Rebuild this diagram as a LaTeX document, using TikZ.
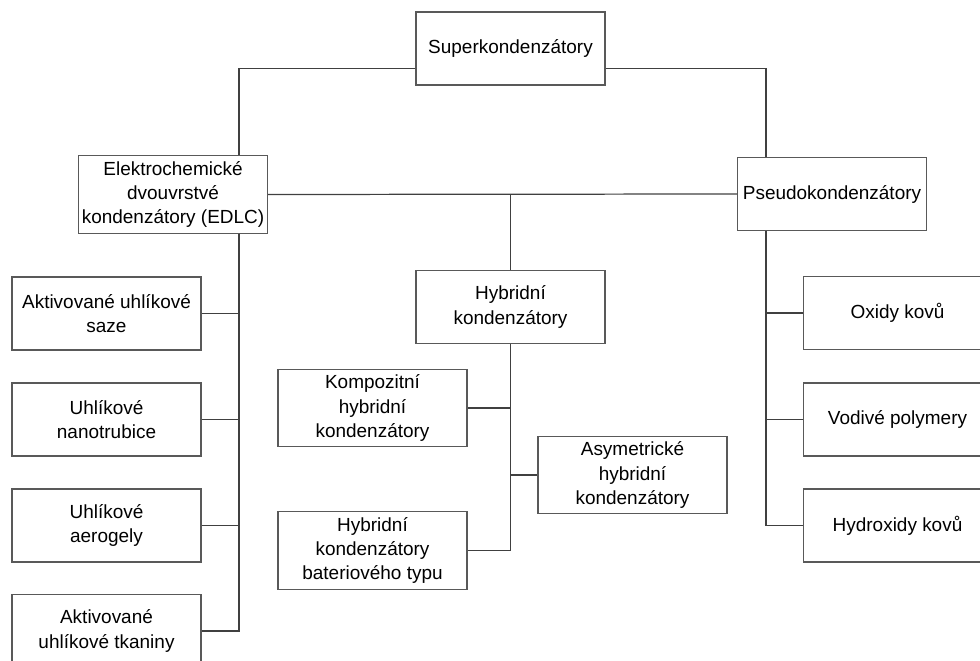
\documentclass[tikz,border=0pt]{standalone}
\usepackage{fontspec}
\setmainfont{Liberation Sans}
\usetikzlibrary{positioning}

\begin{document}
\begin{tikzpicture}[x=0.02cm, y=-0.02cm,
        box/.style={draw=black!65, line width=0.6pt, align=center, inner xsep=1pt,
            minimum width=3.78cm, minimum height=1.46cm,
            font=\fontsize{10.8}{13.7}\selectfont},
        link/.style={draw=black!75, line width=0.7pt}]
        \useasboundingbox (0,0) rectangle (980,661);
        % Node definitions
        \node (super) [box] at (510.5,48.5) {Superkondenzátory};

        \node (edlc) [box] at (173,194.5) {Elektrochemické\\dvouvrstvé\\kondenzátory (EDLC)};
        \node (pseudo) [box] at (832,194) {Pseudokondenzátory};
        \node (hybrid) [box] at (510.5,307) {Hybridní\\kondenzátory};

        % EDLC
        \node (saze) [box] at (106.5,313.5) {Aktivované uhlíkové\\saze};
        \node (nano) [box] at (106.5,419.5) {Uhlíkové\\nanotrubice};
        \node (aero) [box] at (106.5,525.5) {Uhlíkové\\aerogely};
        \node (tkan) [box] at (106.5,631) {Aktivované\\uhlíkové tkaniny};

        % hybridní
        \node (komp) [box] at (372.5,408) {Kompozitní\\hybridní\\kondenzátory};
        \node (asym) [box] at (632.5,475) {Asymetrické\\hybridní\\kondenzátory};
        \node (bate) [box] at (372.5,550.5) {Hybridní\\kondenzátory\\bateriového typu};

        % pseudo
        \node (oxid) [box] at (897.5,313) {Oxidy kovů};
        \node (vodi) [box] at (897.5,419.5) {Vodivé polymery};
        \node (hydr) [box] at (897.5,525.5) {Hydroxidy kovů};

        % connections
        \coordinate (sy) at (0,68.5);
        \coordinate (eb) at (239,0);
        \coordinate (pb) at (766,0);
        \draw[link] (super.west |- sy) -| (edlc.north -| eb);
        \draw[link] (super.east |- sy) -| (pseudo.north -| pb);
        \draw[link] (edlc.east) -- (pseudo.west);
        \draw[link] (hybrid.north |- edlc.east) -- (hybrid.north);
        \foreach \n in {saze,nano,aero,tkan}
            \draw[link] (edlc.south -| eb) |- (\n.east);
        \foreach \n in {oxid,vodi,hydr}
            \draw[link] (pseudo.south -| pb) |- (\n.west);
        \foreach \n in {komp,bate}
            \draw[link] (hybrid.south) |- (\n.east);
        \draw[link] (hybrid.south) |- (asym.west);
    \end{tikzpicture}
\end{document}
